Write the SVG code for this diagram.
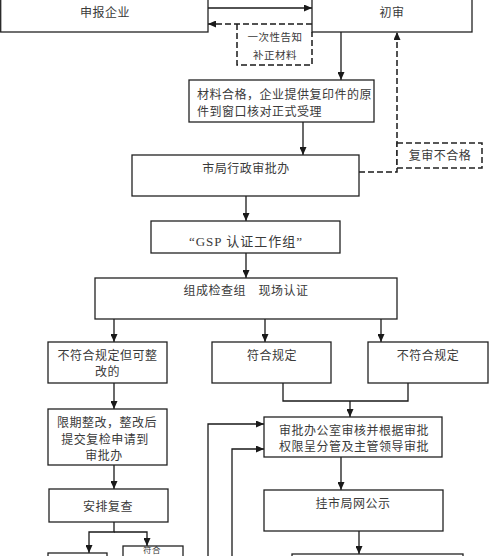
<svg xmlns="http://www.w3.org/2000/svg" width="500" height="556" viewBox="0 0 500 556">
<defs>
<marker id="arr" markerWidth="8" markerHeight="7" refX="8" refY="3.5" orient="auto" markerUnits="userSpaceOnUse">
<path d="M0,0 L8,3.5 L0,7 z" fill="#1a1a1a"/>
</marker>
<style>
.box{fill:#fff;stroke:#222;stroke-width:1.3}
.dbox{fill:#fff;stroke:#222;stroke-width:1.5;stroke-dasharray:6 3}
.t{font-family:"Noto Sans CJK SC","Noto Sans",sans-serif;font-size:12px;fill:#3a3a3a;letter-spacing:0.5px}
.c{text-anchor:middle}
.s{font-size:10.5px}
.g{font-family:"Liberation Serif","Noto Sans CJK SC",serif;font-size:13px;letter-spacing:1px}
.ln{fill:none;stroke:#1a1a1a;stroke-width:1.3}
.dl{fill:none;stroke:#1a1a1a;stroke-width:1.5;stroke-dasharray:6 3}
</style>
</defs>
<rect width="500" height="556" fill="#fff"/>
<g id="connectors">
<path class="ln" d="M208,8 H312" marker-end="url(#arr)"/>
<path class="dl" d="M312,24 H208" marker-end="url(#arr)"/>
<path class="ln" d="M341,32 V80" marker-end="url(#arr)"/>
<path class="dl" d="M359,172 H397 V32" marker-end="url(#arr)"/>
<path class="ln" d="M303,122 V155" marker-end="url(#arr)"/>
<path class="ln" d="M246,196 V221" marker-end="url(#arr)"/>
<path class="ln" d="M246,253 V278" marker-end="url(#arr)"/>
<path class="ln" d="M114,319 V342" marker-end="url(#arr)"/>
<path class="ln" d="M265,319 V342" marker-end="url(#arr)"/>
<path class="ln" d="M381,319 V342" marker-end="url(#arr)"/>
<path class="ln" d="M283,383 V401 H408 V383"/>
<path class="ln" d="M350,401 V417" marker-end="url(#arr)"/>
<path class="ln" d="M114,383 V409" marker-end="url(#arr)"/>
<path class="ln" d="M114,465 V489" marker-end="url(#arr)"/>
<path class="ln" d="M114,522 V532 H89 V553" marker-end="url(#arr)"/>
<path class="ln" d="M114,532 H147 V546" marker-end="url(#arr)"/>
<path class="ln" d="M208,558 V424 H264" marker-end="url(#arr)"/>
<path class="ln" d="M232,558 V449 H264" marker-end="url(#arr)"/>
<path class="ln" d="M341,457 V490" marker-end="url(#arr)"/>
<path class="ln" d="M359,531 V554" marker-end="url(#arr)"/>
</g>
<g id="n-shenbao"><rect class="box" x="0.7" y="-3" width="207.3" height="35"/><text class="t c" x="105" y="17">申报企业</text></g>
<g id="n-chushen"><rect class="box" x="312" y="-3" width="160" height="35"/><text class="t c" x="392" y="17">初审</text></g>
<g id="n-buzheng"><path class="dl" d="M237,24 V65 H312 V32"/><text class="t c s" x="275" y="41">一次性告知</text><text class="t c s" x="275" y="59">补正材料</text></g>
<g id="n-cailiao"><rect class="box" x="189" y="80" width="185" height="42"/><text class="t" x="197" y="98.5">材料合格，企业提供复印件的原</text><text class="t" x="197" y="115.5">件到窗口核对正式受理</text></g>
<g id="n-fushen"><rect class="dbox" x="397" y="143" width="85" height="25"/><text class="t c" x="440" y="160">复审不合格</text></g>
<g id="n-shiju"><rect class="box" x="132" y="155" width="227" height="41"/><text class="t c" x="246" y="172.5">市局行政审批办</text></g>
<g id="n-gsp"><rect class="box" x="151" y="221" width="189" height="32"/><text class="t c g" x="246" y="246">“GSP 认证工作组”</text></g>
<g id="n-zucheng"><rect class="box" x="95" y="278" width="302" height="41"/><text class="t c" x="246" y="295">组成检查组　现场认证</text></g>
<g id="n-kezhenggai"><rect class="box" x="48" y="342" width="119" height="41"/><text class="t c" x="107.5" y="360">不符合规定但可整</text><text class="t c" x="107.5" y="375.5">改的</text></g>
<g id="n-fuhe"><rect class="box" x="212" y="342" width="119" height="41"/><text class="t c" x="272" y="360">符合规定</text></g>
<g id="n-bufuhe"><rect class="box" x="368" y="342" width="120" height="41"/><text class="t c" x="428" y="360">不符合规定</text></g>
<g id="n-xianqi"><rect class="box" x="48" y="409" width="119" height="56"/><text class="t c" x="107" y="426.5">限期整改，整改后</text><text class="t c" x="105" y="443.5">提交复检申请到</text><text class="t c" x="104" y="460">审批办</text></g>
<g id="n-anpai"><rect class="box" x="49" y="489" width="119" height="33"/><text class="t c" x="108" y="510.5">安排复查</text></g>
<g id="n-shenpi"><rect class="box" x="264" y="417" width="178" height="40"/><text class="t c" x="354" y="434.5">审批办公室审核并根据审批</text><text class="t c" x="354" y="450.5">权限呈分管及主管领导审批</text></g>
<g id="n-gua"><rect class="box" x="264" y="490" width="179" height="41"/><text class="t c" x="353" y="507.5">挂市局网公示</text></g>
<g id="n-bottom-left"><rect class="box" x="48" y="553" width="59" height="20"/></g>
<g id="n-bottom-mid"><rect class="box" x="123" y="546" width="60" height="20"/><text class="t c" x="152" y="553" style="font-size:8.5px">符合</text></g>
<g id="n-bottom-right"><rect class="box" x="292" y="554" width="171" height="20"/></g>
</svg>
